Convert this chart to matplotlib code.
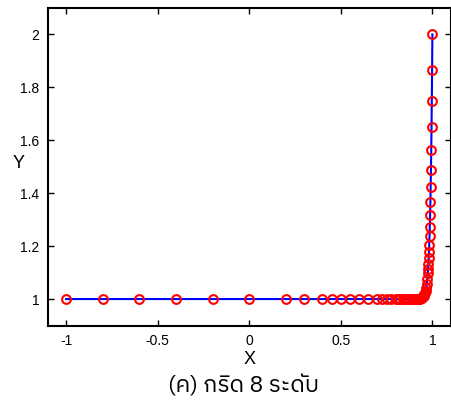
import matplotlib
matplotlib.use("Agg")
import matplotlib.pyplot as plt
from matplotlib import font_manager
from matplotlib.ft2font import FT2Font

# ---- data ----
x_vals = [-1.0, -0.8, -0.6, -0.4, -0.2, 0.0, 0.2, 0.3, 0.4, 0.45, 0.5, 0.55,
          0.6, 0.65, 0.7, 0.725, 0.75, 0.775, 0.8, 0.8125, 0.825, 0.8375, 0.85,
          0.8625, 0.875, 0.8875, 0.9, 0.90625, 0.9125, 0.91875, 0.925, 0.93125,
          0.9375, 0.94375, 0.95, 0.953125, 0.95625, 0.959375, 0.9625, 0.965625,
          0.96875, 0.971875, 0.975, 0.9765625, 0.978125, 0.9796875, 0.98125,
          0.9828125, 0.984375, 0.9859375, 0.9875, 0.9890625, 0.990625,
          0.9921875, 0.99375, 0.9953125, 0.996875, 0.9984375, 1.0]
y_vals = [1.0, 1.0, 1.0, 1.0, 1.0, 1.0, 1.0, 1.0, 1.0, 1.0, 1.0, 1.0,
          1.0, 1.0, 1.0, 1.0, 1.0, 1.0, 1.0, 1.0, 1.0, 1.0, 1.0,
          1.0, 1.0, 1.0, 1.0, 1.0, 1.0, 1.0006, 1.001, 1.0018,
          1.0032, 1.0056, 1.010, 1.013, 1.018, 1.024, 1.032, 1.042,
          1.056, 1.075, 1.100, 1.115, 1.133, 1.154, 1.178,
          1.205, 1.237, 1.274, 1.316, 1.365, 1.422,
          1.487, 1.562, 1.649, 1.750, 1.866, 2.0]
x_ticks = [-1, -0.5, 0, 0.5, 1]
x_ticklabels = ["-1", "-0.5", "0", "0.5", "1"]
y_ticks = [1, 1.2, 1.4, 1.6, 1.8, 2]
y_ticklabels = ["1", "1.2", "1.4", "1.6", "1.8", "2"]
title_text = "(ค) กริด 8 ระดับ"

# ---- find a font with Thai glyphs ----
thai_font = None
cands = []
for f in font_manager.fontManager.ttflist:
    try:
        ft = FT2Font(f.fname)
        if ft.get_char_index(ord("ก")) != 0:
            cands.append(f.name)
    except Exception:
        pass
cands = sorted(set(cands))
pref = [c for c in cands if "Sans" in c and "Looped" not in c]
if pref:
    thai_font = pref[0]
elif cands:
    thai_font = cands[0]

base = "Liberation Sans"
plt.rcParams["font.family"] = [base, "DejaVu Sans"]

W, H = 451, 403
ax_left, ax_w = 47.7, 403
fig = plt.figure(figsize=(W / 100, H / 100), dpi=100)
ax = fig.add_axes([ax_left / W, (H - 325.5) / H, ax_w / W, 317.5 / H])
ax.plot(x_vals, y_vals, color="blue", lw=1.5, zorder=2)
ax.plot(x_vals, y_vals, ls="none", marker="o", mfc="none", mec="red",
        ms=6.3, mew=1.5, zorder=3)
ax.set_xlim(-1.1, 1.1)
ax.set_ylim(0.9, 2.1)
ax.set_xticks(x_ticks)
ax.set_xticklabels(x_ticklabels)
ax.set_yticks(y_ticks)
ax.set_yticklabels(y_ticklabels)
ax.tick_params(direction="in", length=4, width=1, top=True, right=True,
               labelsize=10, pad=6)
for s in ax.spines.values():
    s.set_linewidth(1.5)
ax.set_xlabel("X", fontsize=13, labelpad=2)
ax.set_ylabel("Y", fontsize=13, rotation=0, ha="center", va="center")
ax.yaxis.set_label_coords((19 - ax_left) / ax_w, (325.5 - 163) / 317.5)

fam = [thai_font, base, "DejaVu Sans"] if thai_font else [base, "DejaVu Sans"]
fig.text(243.7 / W, 1 - 386 / H, title_text, fontsize=16.5, family=fam,
         ha="center", va="center")
fig.savefig("out.png", dpi=100)
